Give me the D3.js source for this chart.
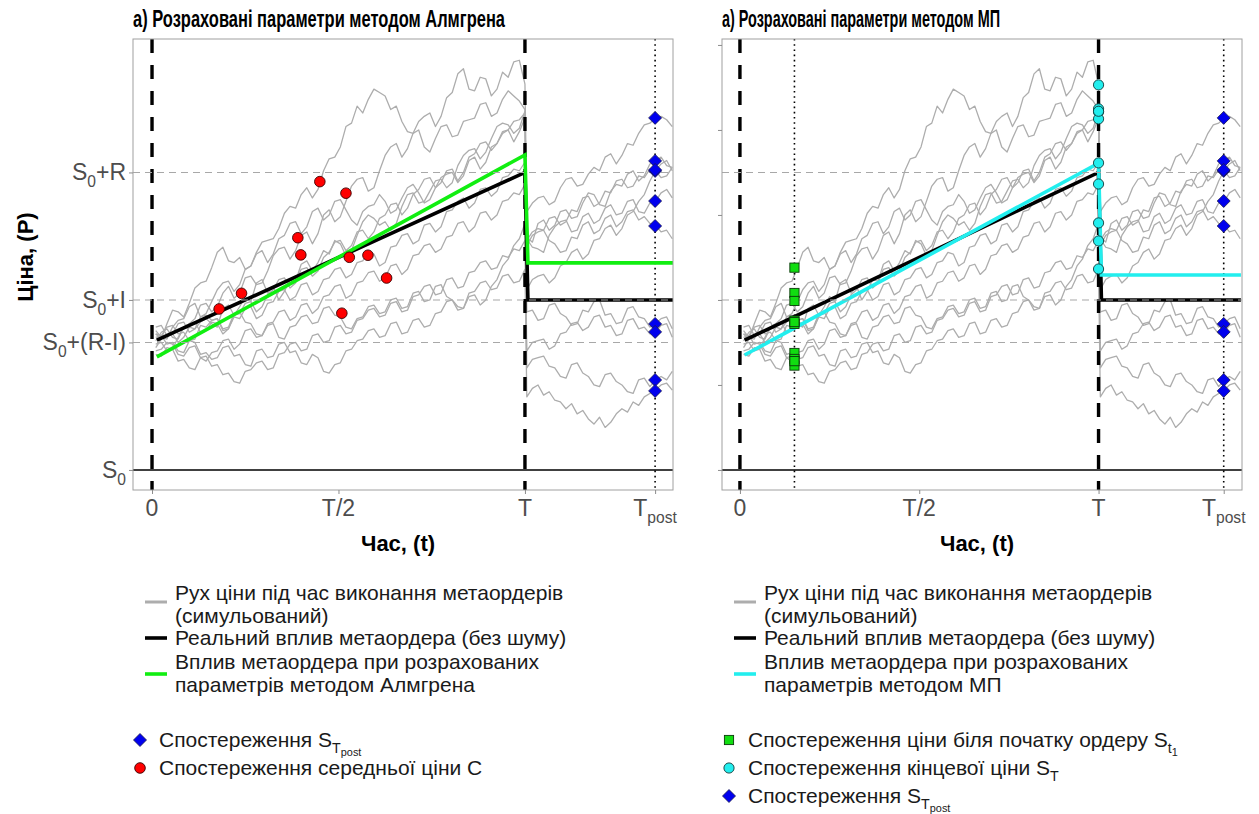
<!DOCTYPE html>
<html>
<head>
<meta charset="utf-8">
<script src="https://cdn.jsdelivr.net/npm/d3@7"></script>
<style>
  body { margin: 0; background: #fff; }
  text { font-family: "Liberation Sans", Arial, sans-serif; }
</style>
</head>
<body>
<svg id="chart" width="1259" height="814"></svg>
<script>
// model constants, price in units of I, S0 = 0
const S0 = 0, I = 1, R = 1.75, T = 1, Tpost = 1.349, t1 = 0.152;

// time grid of the simulated paths (before and after T)
const tPre = [0.010,0.025,0.040,0.055,0.070,0.085,0.100,0.115,0.130,0.145,0.160,0.175,0.190,0.205,0.220,0.235,0.250,0.265,0.280,0.295,
              0.310,0.325,0.340,0.355,0.370,0.385,0.400,0.415,0.430,0.445,0.460,0.475,0.490,0.505,0.520,0.535,0.550,0.565,0.580,0.595,
              0.610,0.625,0.640,0.655,0.670,0.685,0.700,0.715,0.730,0.745,0.760,0.775,0.790,0.805,0.820,0.835,0.850,0.865,0.880,0.895,
              0.910,0.925,0.940,0.955,0.970,0.985,1.000];
const tPost = [1.005,1.020,1.035,1.050,1.065,1.080,1.095,1.110,1.125,1.140,1.155,1.170,1.185,1.200,1.215,1.230,1.245,1.260,1.275,1.290,
               1.305,1.320,1.335,1.350,1.365,1.380,1.395];

// simulated price paths: 67 values before T, 27 after
const pathA = [0.80,0.77,0.86,0.94,0.93,0.90,0.98,1.07,1.10,1.11,1.19,1.28,1.31,1.23,1.22,1.25,1.18,1.20,1.28,1.34,1.35,1.36,1.42,1.51,1.55,1.54,1.62,1.66,1.60,1.65,
               1.76,1.83,1.84,1.90,2.02,2.04,2.14,2.10,2.18,2.24,2.22,2.20,2.12,2.14,2.05,1.99,1.98,2.00,1.90,1.87,1.95,2.02,2.03,1.96,1.97,2.05,2.06,2.07,2.15,2.16,
               2.08,2.10,2.18,2.23,2.20,2.17,2.12,
               1.37,1.34,1.45,1.47,1.41,1.44,1.52,1.53,1.48,1.49,1.57,1.63,1.62,1.56,1.55,1.64,1.68,1.67,1.74,1.76,1.70,1.73,1.80,1.82,1.84,1.79,1.78];
const pathB = [0.76,0.81,0.83,0.78,0.77,0.84,0.86,0.89,0.97,0.98,0.93,0.96,1.04,1.08,1.01,1.04,1.13,1.14,1.09,1.10,1.17,1.26,1.30,1.31,1.24,1.29,1.38,1.40,1.33,1.39,
               1.50,1.53,1.46,1.49,1.58,1.67,1.71,1.72,1.64,1.66,1.76,1.85,1.90,1.92,1.84,1.89,1.98,2.05,2.08,2.10,2.02,2.08,2.19,2.22,2.33,2.36,2.24,2.23,2.31,2.30,
               2.20,2.24,2.34,2.31,2.40,2.41,2.27,
               1.52,1.57,1.60,1.61,1.56,1.58,1.66,1.71,1.72,1.67,1.68,1.74,1.78,1.76,1.84,1.86,1.80,1.85,1.92,1.91,1.98,2.03,2.04,2.07,2.08,2.06,2.02];
const pathC = [0.72,0.77,0.79,0.80,0.75,0.78,0.84,0.83,0.87,0.89,0.86,0.84,0.95,0.97,0.91,0.96,1.02,0.99,1.10,1.12,1.04,1.08,1.00,1.05,1.12,1.11,1.21,1.23,1.17,1.22,
               1.29,1.27,1.35,1.33,1.26,1.29,1.38,1.46,1.50,1.48,1.44,1.46,1.41,1.45,1.55,1.62,1.63,1.57,1.58,1.64,1.70,1.71,1.66,1.69,1.79,1.85,1.88,1.89,1.83,1.87,
               1.95,2.02,2.04,2.03,1.98,2.01,2.11,
               1.36,1.31,1.30,1.28,1.38,1.43,1.46,1.47,1.40,1.41,1.49,1.51,1.45,1.47,1.54,1.56,1.50,1.51,1.58,1.59,1.52,1.51,1.57,1.58,1.63,1.65,1.60];
const pathD = [0.82,0.78,0.77,0.84,0.88,0.89,0.96,0.98,0.90,0.92,0.99,1.06,1.10,1.11,1.05,1.09,1.18,1.20,1.27,1.29,1.22,1.27,1.36,1.38,1.45,1.46,1.39,1.43,1.52,1.54,
               1.47,1.50,1.58,1.59,1.53,1.47,1.44,1.52,1.55,1.56,1.62,1.58,1.51,1.53,1.60,1.66,1.68,1.63,1.57,1.59,1.66,1.72,1.74,1.75,1.69,1.73,1.82,1.84,1.77,1.81,
               1.90,1.92,1.98,2.00,1.93,1.99,2.07,
               1.32,1.38,1.40,1.41,1.35,1.33,1.28,1.29,1.37,1.36,1.44,1.46,1.39,1.41,1.48,1.50,1.43,1.46,1.52,1.53,1.47,1.49,1.45,1.44,1.40,1.41,1.36];
const pathE = [0.74,0.75,0.70,0.71,0.78,0.84,0.86,0.87,0.81,0.82,0.87,0.86,0.80,0.83,0.91,0.92,0.98,0.99,0.93,0.96,1.03,1.06,1.12,1.13,1.07,1.10,1.18,1.19,1.14,1.17,
               1.25,1.28,1.34,1.35,1.29,1.32,1.40,1.41,1.36,1.40,1.48,1.50,1.56,1.57,1.50,1.54,1.62,1.65,1.71,1.72,1.66,1.69,1.76,1.77,1.70,1.75,1.84,1.86,1.92,1.93,
               1.88,1.92,1.99,2.00,2.05,2.06,2.10,
               1.35,1.40,1.42,1.41,1.48,1.49,1.44,1.46,1.53,1.52,1.60,1.61,1.55,1.57,1.64,1.63,1.70,1.71,1.66,1.67,1.73,1.72,1.77,1.76,1.72,1.73,1.78];
const pathF = [0.78,0.79,0.84,0.85,0.80,0.81,0.76,0.77,0.85,0.84,0.88,0.89,0.82,0.83,0.90,0.89,0.95,0.96,0.89,0.91,0.98,0.99,1.05,1.06,1.00,1.02,1.09,1.10,1.03,1.05,
               1.12,1.13,1.18,1.19,1.13,1.15,1.22,1.23,1.28,1.27,1.20,1.22,1.31,1.32,1.38,1.39,1.33,1.35,1.44,1.45,1.40,1.43,1.52,1.53,1.58,1.60,1.54,1.57,1.65,1.66,
               1.61,1.64,1.72,1.73,1.77,1.76,1.81,
               1.06,1.12,1.14,1.15,1.10,1.13,1.20,1.22,1.28,1.30,1.24,1.27,1.35,1.36,1.42,1.44,1.38,1.42,1.50,1.52,1.58,1.62,1.70,1.76,1.80,1.82,1.76];
const pathG = [0.70,0.71,0.75,0.74,0.68,0.67,0.72,0.73,0.66,0.64,0.69,0.70,0.76,0.77,0.71,0.74,0.82,0.83,0.78,0.79,0.86,0.87,0.93,0.94,0.88,0.90,0.97,0.98,0.92,0.95,
               1.02,1.03,1.08,1.09,1.01,1.03,1.10,1.11,1.16,1.17,1.11,1.13,1.20,1.21,1.15,1.18,1.26,1.27,1.32,1.33,1.28,1.30,1.37,1.38,1.45,1.46,1.40,1.43,1.51,1.52,
               1.47,1.50,1.58,1.59,1.63,1.62,1.68,
               0.93,0.94,0.88,0.89,0.97,0.98,0.92,0.90,0.85,0.86,0.94,0.93,0.99,1.00,0.91,0.92,0.86,0.87,0.95,0.96,0.90,0.89,0.84,0.86,0.89,0.90,0.83];
const pathH = [0.80,0.79,0.74,0.75,0.70,0.69,0.76,0.75,0.68,0.69,0.65,0.66,0.72,0.73,0.67,0.68,0.62,0.61,0.70,0.71,0.66,0.67,0.74,0.75,0.69,0.70,0.63,0.62,0.68,0.66,
               0.58,0.57,0.62,0.63,0.70,0.71,0.76,0.77,0.82,0.83,0.78,0.79,0.86,0.87,0.80,0.81,0.88,0.89,0.84,0.85,0.92,0.93,0.99,1.00,0.94,0.95,1.02,1.03,0.97,1.00,
               1.08,1.12,1.20,1.24,1.32,1.36,1.45,
               0.70,0.75,0.76,0.77,0.71,0.73,0.80,0.81,0.86,0.87,0.82,0.84,0.90,0.91,0.84,0.85,0.79,0.80,0.88,0.89,0.83,0.84,0.80,0.81,0.85,0.86,0.78];
const pathI = [0.68,0.67,0.72,0.71,0.64,0.65,0.60,0.59,0.66,0.67,0.61,0.62,0.56,0.57,0.52,0.51,0.58,0.59,0.63,0.64,0.59,0.60,0.68,0.69,0.74,0.75,0.70,0.71,0.79,0.80,
               0.75,0.76,0.84,0.85,0.80,0.81,0.88,0.89,0.94,0.95,0.90,0.91,0.98,0.99,0.93,0.94,1.02,1.03,1.08,1.09,1.03,1.04,1.12,1.13,1.07,1.08,1.16,1.17,1.22,1.23,
               1.18,1.19,1.26,1.25,1.30,1.29,1.35,
               0.60,0.65,0.66,0.67,0.61,0.60,0.55,0.54,0.62,0.63,0.57,0.55,0.50,0.49,0.56,0.57,0.52,0.50,0.46,0.45,0.53,0.54,0.49,0.53,0.55,0.53,0.58];
const pathJ = [0.84,0.85,0.79,0.80,0.86,0.87,0.81,0.83,0.90,0.91,0.88,0.89,0.83,0.84,0.92,0.93,0.87,0.86,0.80,0.79,0.85,0.86,0.78,0.77,0.84,0.85,0.90,0.91,0.86,0.87,
               0.95,0.96,0.91,0.90,0.84,0.83,0.89,0.90,0.96,0.97,0.92,0.93,1.00,1.01,0.95,0.96,1.04,1.05,0.99,1.00,1.08,1.09,1.02,1.00,0.96,0.95,1.04,1.05,1.10,1.11,
               1.06,1.07,1.14,1.15,1.10,1.11,1.18,
               0.43,0.48,0.50,0.44,0.46,0.41,0.40,0.36,0.39,0.33,0.35,0.30,0.27,0.31,0.25,0.28,0.33,0.36,0.34,0.40,0.38,0.43,0.45,0.47,0.50,0.51,0.47];
const paths = [pathA, pathB, pathC, pathD, pathE, pathF, pathG, pathH, pathI, pathJ];

// impact lines: real (no noise), Almgren fit, MP fit
const lineT = [0.013, 1.0, 1.008, 1.397];
const realP = [0.763, 1.75, 1.0, 1.0];
const almgrenP = [0.665, 1.853, 1.218, 1.218];
const mpP = [0.676, 1.804, 1.147, 1.147];

// observations
const meanT = [0.450, 0.520, 0.391, 0.399, 0.529, 0.579, 0.629, 0.240, 0.180, 0.509];
const meanP = [1.696, 1.628, 1.366, 1.265, 1.251, 1.263, 1.129, 1.039, 0.947, 0.922];
const postP = [2.071, 1.818, 1.759, 1.582, 1.435, 0.859, 0.812, 0.529, 0.465, 1.765];
const endP = [2.265, 2.124, 2.106, 2.065, 1.806, 1.682, 1.453, 1.347, 1.182, 2.110];
const startP = [1.190, 1.041, 0.994, 0.878, 0.859, 0.688, 0.653, 0.614, 0.870, 0.640];

// axis ticks
const yTicksLeft = [S0, S0 + R - I, S0 + I, S0 + R];
const yTickLabels = [[["S",0],["0",1]], [["S",0],["0",1],["+(R-I)",0]], [["S",0],["0",1],["+I",0]], [["S",0],["0",1],["+R",0]]];
const yTicksRight = [0, 0.5, 1, 1.5, 2, 2.5];
const xTicks = [0, T / 2, T, Tpost];
const xTickLabels = [[["0",0]], [["T/2",0]], [["T",0]], [["T",0],["post",1]]];
const hLines = [S0 + R - I, S0 + I, S0 + R];

const svg = d3.select("#chart");
const yTop = 39, yBottom = 490;
const y = d3.scaleLinear().domain([-0.118, 2.535]).range([yBottom, yTop]);

// text with subscripts: parts = [[string, level]]
function richText(sel, parts, size) {
  let cur = 0;
  parts.forEach(([s, lvl]) => {
    const fs = size * [1, 0.68, 0.52][lvl];
    const off = size * [0, 0.3, 0.42][lvl];
    sel.append("tspan").attr("font-size", fs).attr("dy", off - cur).text(s);
    cur = off;
  });
}

function drawPanel(p) {
  const x = d3.scaleLinear().domain(p.domain).range([p.x0, p.x1]);
  const g = svg.append("g");

  g.append("defs").append("clipPath").attr("id", "clip" + p.id)
    .append("rect").attr("x", p.x0).attr("y", yTop).attr("width", p.x1 - p.x0).attr("height", yBottom - yTop);
  const plot = g.append("g").attr("clip-path", `url(#clip${p.id})`);

  // simulated paths
  const tAll = tPre.concat(tPost);
  const line = d3.line().x(d => x(d[0])).y(d => y(d[1]));
  plot.selectAll("path.sim").data(paths).join("path")
    .attr("class", "sim")
    .attr("d", v => line(v.map((val, i) => [tAll[i], val])))
    .attr("fill", "none").attr("stroke", "#adadad").attr("stroke-width", 1.3)
    .attr("stroke-linejoin", "round");

  // S0 line
  plot.append("line").attr("x1", p.x0).attr("x2", p.x1).attr("y1", y(S0)).attr("y2", y(S0))
    .attr("stroke", "#000").attr("stroke-width", 1.5);

  // vertical markers
  [0, T].forEach(v => plot.append("line")
    .attr("x1", x(v)).attr("x2", x(v)).attr("y1", yTop).attr("y2", yBottom)
    .attr("stroke", "#000").attr("stroke-width", 3.4).attr("stroke-dasharray", "14,12"));
  p.dotted.forEach(v => plot.append("line")
    .attr("x1", x(v)).attr("x2", x(v)).attr("y1", yTop).attr("y2", yBottom)
    .attr("stroke", "#000").attr("stroke-width", 1.6).attr("stroke-dasharray", "1.6,3.6"));

  // impact lines
  const real = lineT.map((t, i) => [t, realP[i]]);
  const fit = lineT.map((t, i) => [t, p.fitP[i]]);
  plot.append("path").attr("d", line(real)).attr("fill", "none")
    .attr("stroke", "#000").attr("stroke-width", 3.6);
  plot.append("path").attr("d", line(fit)).attr("fill", "none")
    .attr("stroke", p.fitColor).attr("stroke-width", 3.6);

  // reference levels
  hLines.forEach(v => plot.append("line")
    .attr("x1", p.x0).attr("x2", p.x1).attr("y1", y(v)).attr("y2", y(v))
    .attr("stroke", "#a8a8a8").attr("stroke-width", 1.1).attr("stroke-dasharray", "7,5"));

  p.markers(plot, x);

  // panel border
  g.append("rect").attr("x", p.x0).attr("y", yTop).attr("width", p.x1 - p.x0).attr("height", yBottom - yTop)
    .attr("fill", "none").attr("stroke", "#a0a0a0").attr("stroke-width", 1);

  // axes
  const yAxis = g.append("g").attr("transform", `translate(${p.x0},0)`)
    .call(d3.axisLeft(y).tickValues(p.yTicks).tickSize(4).tickPadding(3).tickFormat(""));
  const xAxis = g.append("g").attr("transform", `translate(0,${yBottom})`)
    .call(d3.axisBottom(x).tickValues(xTicks).tickSize(4).tickPadding(4).tickFormat(""));
  [yAxis, xAxis].forEach(a => {
    a.select(".domain").remove();
    a.selectAll(".tick line").attr("stroke", "#8c8c8c");
  });
  if (p.yLabels) {
    yTicksLeft.forEach((v, i) => {
      const t = g.append("text").attr("x", p.x0 - 7).attr("y", y(v) + 8)
        .attr("text-anchor", "end").attr("fill", "#4d4d4d");
      richText(t, yTickLabels[i], 23);
    });
  }
  xTicks.forEach((v, i) => {
    const t = g.append("text").attr("x", x(v)).attr("y", 516)
      .attr("text-anchor", "middle").attr("fill", "#4d4d4d");
    richText(t, xTickLabels[i], 23);
  });

  // titles
  g.append("text").attr("x", p.x0).attr("y", 27).attr("font-size", 23).attr("font-weight", "bold")
    .attr("textLength", p.titleLen).attr("lengthAdjust", "spacingAndGlyphs").text(p.title);
  g.append("text").attr("x", (p.x0 + p.x1) / 2 - 5).attr("y", 551).attr("text-anchor", "middle")
    .attr("font-size", 22).attr("font-weight", "bold").text("Час, (t)");

  // legend: lines
  const lx = p.x0 + 12;
  const items = [
    { color: "#adadad", w: 3, ky: 602, lines: ["Рух ціни під час виконання метаордерів", "(симульований)"], ty: 600 },
    { color: "#000", w: 3.6, ky: 638, lines: ["Реальний вплив метаордера (без шуму)"], ty: 645 },
    { color: p.fitColor, w: 3.6, ky: 674, lines: ["Вплив метаордера при розрахованих", p.fitLabel], ty: 669 }
  ];
  items.forEach(it => {
    g.append("line").attr("x1", lx).attr("x2", lx + 22).attr("y1", it.ky).attr("y2", it.ky)
      .attr("stroke", it.color).attr("stroke-width", it.w);
    it.lines.forEach((s, j) => g.append("text").attr("x", p.x0 + 42).attr("y", it.ty + j * 23)
      .attr("font-size", 21).attr("fill", "#1a1a1a").text(s));
  });

  // legend: points
  p.pointLegend.forEach((it, j) => {
    const cy = 740 + j * 28;
    const mg = g.append("g").attr("transform", `translate(${p.x0 + 7},${cy})`);
    it.draw(mg);
    const t = g.append("text").attr("x", p.x0 + 26).attr("y", cy + 7).attr("fill", "#1a1a1a");
    richText(t, it.label, 21);
  });
}

const diamond = (sel) => sel.append("path").attr("d", "M0,-6.5L6.5,0L0,6.5L-6.5,0Z")
  .attr("fill", "#0000ee").attr("stroke", "#1a1a4a").attr("stroke-width", 0.8);
const redDot = (sel) => sel.append("circle").attr("r", 5.3).attr("fill", "#ff0000")
  .attr("stroke", "#3a0000").attr("stroke-width", 0.9);
const cyanDot = (sel) => sel.append("circle").attr("r", 5.1).attr("fill", "#22eeee")
  .attr("stroke", "#103a3a").attr("stroke-width", 0.9);
const greenSq = (sel) => sel.append("rect").attr("x", -4.6).attr("y", -4.6).attr("width", 9.2).attr("height", 9.2)
  .attr("fill", "#11dd11").attr("stroke", "#0a3a0a").attr("stroke-width", 0.9);

const postLabel = [["Спостереження S",0],["T",1],["post",2]];

drawPanel({
  id: "L", x0: 133, x1: 673, domain: [-0.051, 1.397], yTicks: yTicksLeft, yLabels: true,
  title: "а) Розраховані параметри методом Алмгрена", titleLen: 372,
  fitP: almgrenP, fitColor: "#11ee11", fitLabel: "параметрів методом Алмгрена",
  dotted: [Tpost],
  markers: (plot, x) => {
    postP.forEach(v => diamond(plot.append("g").attr("transform", `translate(${x(Tpost)},${y(v)})`)));
    meanT.forEach((t, i) => redDot(plot.append("g").attr("transform", `translate(${x(t)},${y(meanP[i])})`)));
  },
  pointLegend: [
    { draw: diamond, label: postLabel },
    { draw: redDot, label: [["Спостереження середньої ціни C",0]] }
  ]
});

drawPanel({
  id: "R", x0: 722, x1: 1242, domain: [-0.05, 1.40], yTicks: yTicksRight, yLabels: false,
  title: "а) Розраховані параметри методом МП", titleLen: 278,
  fitP: mpP, fitColor: "#22eeee", fitLabel: "параметрів методом МП",
  dotted: [Tpost, t1],
  markers: (plot, x) => {
    startP.forEach(v => greenSq(plot.append("g").attr("transform", `translate(${x(t1)},${y(v)})`)));
    endP.forEach(v => cyanDot(plot.append("g").attr("transform", `translate(${x(T)},${y(v)})`)));
    postP.forEach(v => diamond(plot.append("g").attr("transform", `translate(${x(Tpost)},${y(v)})`)));
  },
  pointLegend: [
    { draw: greenSq, label: [["Спостереження ціни біля початку ордеру S",0],["t",1],["1",2]] },
    { draw: cyanDot, label: [["Спостереження кінцевої ціни S",0],["T",1]] },
    { draw: diamond, label: postLabel }
  ]
});

// shared y axis title
svg.append("text").attr("transform", `translate(33,257) rotate(-90)`)
  .attr("text-anchor", "middle").attr("font-size", 22).attr("font-weight", "bold").text("Ціна, (P)");
</script>
</body>
</html>
